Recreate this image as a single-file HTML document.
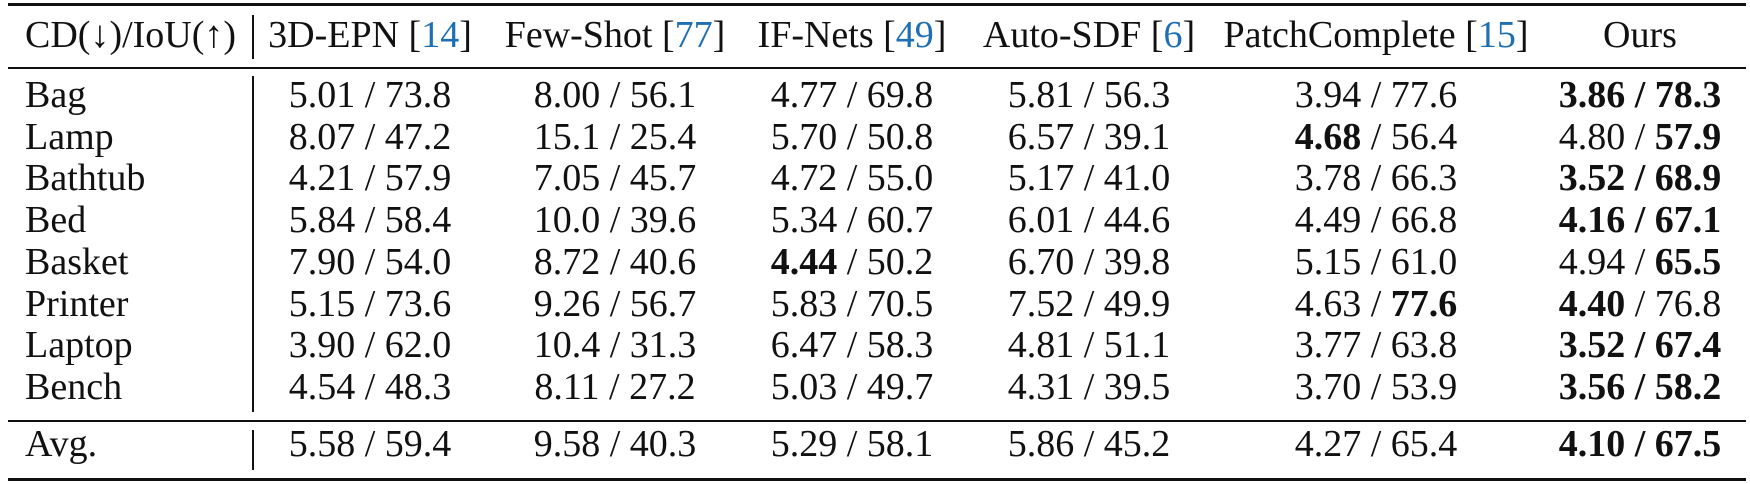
<!DOCTYPE html>
<html><head><meta charset="utf-8">
<style>
html,body{margin:0;padding:0;background:#fff;}
#t{position:relative;width:1750px;height:484px;overflow:hidden;font-family:"Liberation Serif",serif;font-size:38px;color:#111;}
.c{position:absolute;white-space:nowrap;transform:translateX(-50%);line-height:1;}
.l{position:absolute;white-space:nowrap;line-height:1;}
.r{position:absolute;background:#111;}
.ref{color:#1f6fb4;}
b{font-weight:bold;}
</style></head>
<body>
<div id="t">
  <div class="r" style="left:8px;top:3px;width:1738px;height:2.5px"></div>
  <div class="r" style="left:8px;top:67px;width:1738px;height:1.5px"></div>
  <div class="r" style="left:8px;top:420px;width:1738px;height:1.5px"></div>
  <div class="r" style="left:8px;top:478px;width:1738px;height:2.5px"></div>
  <div class="r" style="left:252px;top:15px;width:1.5px;height:44px"></div>
  <div class="r" style="left:252px;top:76px;width:1.5px;height:336px"></div>
  <div class="r" style="left:252px;top:430px;width:1.5px;height:40px"></div>
</div>
<script>
const headers=[["CD(↓)/IoU(↑)",""],["3D-EPN ","14"],["Few-Shot ","77"],["IF-Nets ","49"],["Auto-SDF ","6"],["PatchComplete ","15"],["Ours",""]];
const cats=["Bag","Lamp","Bathtub","Bed","Basket","Printer","Laptop","Bench","Avg."];
const vals=[
["5.01 / 73.8","8.00 / 56.1","4.77 / 69.8","5.81 / 56.3","3.94 / 77.6","<b>3.86 / 78.3</b>"],
["8.07 / 47.2","15.1 / 25.4","5.70 / 50.8","6.57 / 39.1","<b>4.68</b> / 56.4","4.80 / <b>57.9</b>"],
["4.21 / 57.9","7.05 / 45.7","4.72 / 55.0","5.17 / 41.0","3.78 / 66.3","<b>3.52 / 68.9</b>"],
["5.84 / 58.4","10.0 / 39.6","5.34 / 60.7","6.01 / 44.6","4.49 / 66.8","<b>4.16 / 67.1</b>"],
["7.90 / 54.0","8.72 / 40.6","<b>4.44</b> / 50.2","6.70 / 39.8","5.15 / 61.0","4.94 / <b>65.5</b>"],
["5.15 / 73.6","9.26 / 56.7","5.83 / 70.5","7.52 / 49.9","4.63 / <b>77.6</b>","<b>4.40</b> / 76.8"],
["3.90 / 62.0","10.4 / 31.3","6.47 / 58.3","4.81 / 51.1","3.77 / 63.8","<b>3.52 / 67.4</b>"],
["4.54 / 48.3","8.11 / 27.2","5.03 / 49.7","4.31 / 39.5","3.70 / 53.9","<b>3.56 / 58.2</b>"],
["5.58 / 59.4","9.58 / 40.3","5.29 / 58.1","5.86 / 45.2","4.27 / 65.4","<b>4.10 / 67.5</b>"]];
const colX=[370,615,852,1089,1376,1640];
const root=document.getElementById('t');
const ASC=32;
function add(cls,x,base,html){const d=document.createElement('div');d.className=cls;d.style.left=x+'px';d.style.top=(base-ASC)+'px';d.innerHTML=html;root.appendChild(d);return d;}
let h=add('l',25,48,headers[0][0]);


for(let i=1;i<headers.length;i++){
  const txt=headers[i][1]?headers[i][0]+'[<span class="ref">'+headers[i][1]+'</span>]':headers[i][0];
  const e=add('c',colX[i-1],48,txt);
  
  
}
for(let r=0;r<cats.length;r++){
  const y=r<8?108+r*41.7:457;
  const e=add('l',25,y,cats[r]);
  
  
  for(let c=0;c<6;c++){
    const v=add('c',colX[c],y,vals[r][c]);
    
    
  }
}
</script>
</body></html>
